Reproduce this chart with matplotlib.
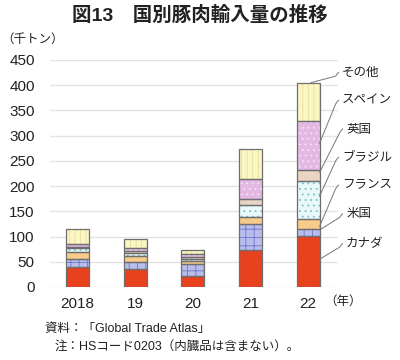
import matplotlib
matplotlib.use("Agg")
import matplotlib.pyplot as plt
import numpy as np

plt.rcParams['font.family'] = ['Liberation Sans', 'Noto Sans CJK JP', 'DejaVu Sans']
plt.rcParams['hatch.linewidth'] = 0.6

# Data (thousand tons)
years = ["2018", "19", "20", "21", "22"]
canada = [39, 35, 21, 73, 102]
usa = [17, 15, 24, 51, 12]
france = [14, 11, 7, 14, 20]
brazil = [7, 7, 4, 24, 77]
uk = [3, 3, 4, 13, 20]
spain = [5, 7, 5, 40, 99]
other = [29, 18, 8, 59, 75]

series = [canada, usa, france, brazil, uk, spain, other]
names = ["カナダ", "米国", "フランス", "ブラジル", "英国", "スペイン", "その他"]
faces = ["#E8411E", "#B9BDEC", "#F8CB8A", "#E9F8F8", "#E8D5C2", "#E3B9E3", "#FBF7C2"]
hatch_cols = ["#E8411E", "#6F74CC", "#F8CB8A", "#7DBFCF", "#E8D5C2", "#F6E2F6", "#E6DEA2"]
hatches = [None, "++", None, "...", None, "...", "|||"]

fig = plt.figure(figsize=(4, 3.6), dpi=100)
ax = fig.add_axes([0.125, 0.2028, 0.72, 0.6306])

x = np.arange(len(years))
w = 0.4
bottom = np.zeros(len(years))
for vals, fc, hc, h in zip(series, faces, hatch_cols, hatches):
    ax.bar(x, vals, w, bottom=bottom, color=fc, edgecolor=hc, linewidth=0,
           hatch=h, zorder=3)
    ax.bar(x, vals, w, bottom=bottom, fill=False, edgecolor="#6E6E6E",
           linewidth=0.9, zorder=4)
    bottom += np.array(vals)

ax.set_xlim(-0.48, 4.52)
ax.set_ylim(0, 450)
ax.set_yticks(range(0, 451, 50))
ax.set_xticks(x)
ax.set_xticklabels(years)
ax.grid(axis='y', color="#E3E3E3", linewidth=1, zorder=0)
ax.tick_params(axis='y', length=0, pad=11, labelsize=11, labelcolor="#222222")
ax.tick_params(axis='x', length=0, pad=7, labelsize=11, labelcolor="#222222")
for s in ax.spines.values():
    s.set_visible(False)

# right-hand labels with leader lines
label_y = [85, 144, 201, 256, 312, 369, 424]
label_x = [4.66, 4.66, 4.59, 4.59, 4.66, 4.59, 4.59]
point_y = [55, 113, 120, 180, 227, 285, 405]
point_x = [4.2, 4.2, 4.2, 4.2, 4.2, 4.2, 4.05]
for nm, lx, ly, pxx, pyy in zip(names, label_x, label_y, point_x, point_y):
    ax.text(lx, ly, nm, fontsize=9, va='center', ha='left', color="#222222",
            clip_on=False)
    hx = lx - 0.06
    ax.plot([pxx, hx - 0.05, hx - 0.02, hx], [pyy, ly - 6, ly - 1, ly + 1],
            color="#777777", linewidth=0.7, clip_on=False, zorder=5)

fig.text(0.5, 0.958, "図13　国別豚肉輸入量の推移", fontsize=14, fontweight='bold',
         ha='center', va='center', color="#222222")
fig.text(0.002, 0.889, "（千トン）", fontsize=9, ha='left', va='center', color="#222222")
fig.text(0.81, 0.161, "（年）", fontsize=9, ha='left', va='center', color="#222222")
fig.text(0.112, 0.086, "資料：「Global Trade Atlas」", fontsize=9, ha='left',
         va='center', color="#222222")
fig.text(0.137, 0.036, "注：HSコード0203（内臓品は含まない）。", fontsize=9, ha='left',
         va='center', color="#222222")

fig.savefig("out.png", dpi=100)
